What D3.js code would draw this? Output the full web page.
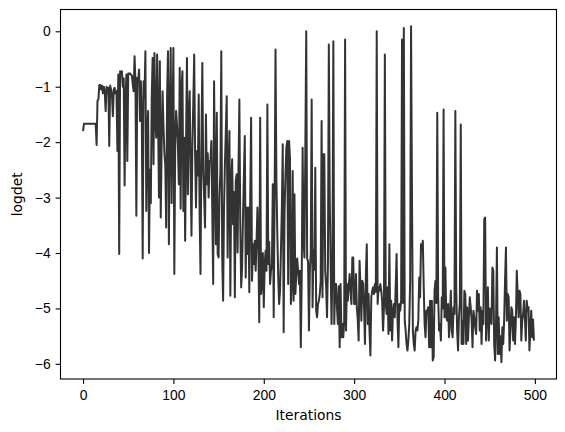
<!DOCTYPE html>
<html lang="en">
<head>
<meta charset="UTF-8" />
<title>logdet vs iterations</title>
<style>
  html, body { margin: 0; padding: 0; background: #fff; }
  svg { display: block; font-family: "DejaVu Sans", sans-serif; }
  .tick text { font-size: 13.9px; fill: #000; }
  .axis-label { font-size: 13.9px; fill: #000; }
</style>
</head>
<body>
<svg width="565" height="432"></svg>
<script src="https://cdn.jsdelivr.net/npm/d3@7"></script>
<script>
// logdet per iteration (index = iteration)
var logdet = [
  -1.80, -1.67, -1.67, -1.67, -1.67, -1.67, -1.67, -1.67, -1.67, -1.67,
  -1.67, -1.67, -1.67, -1.67, -1.67, -2.05, -1.25, -1.23, -0.97, -0.97,
  -1.05, -0.98, -1.12, -1.00, -1.10, -1.44, -1.00, -1.08, -1.02, -2.07,
  -0.98, -1.05, -1.15, -1.53, -1.05, -1.02, -1.12, -1.08, -2.16, -0.78,
  -4.02, -0.72, -0.75, -0.72, -1.00, -0.85, -2.78, -1.20, -0.78, -2.34,
  -0.76, -0.77, -0.76, -0.78, -0.80, -0.96, -1.08, -0.45, -0.90, -3.33,
  -0.84, -0.90, -0.69, -1.62, -0.90, -1.50, -4.10, -0.90, -1.20, -0.36,
  -3.24, -1.80, -1.44, -4.00, -2.50, -3.10, -1.20, -0.48, -2.40, -0.39,
  -1.60, -1.92, -0.42, -1.50, -3.00, -0.54, -3.36, -2.00, -1.08, -1.70,
  -2.20, -2.40, -3.54, -1.20, -0.36, -3.84, -1.50, -0.30, -3.10, -1.60,
  -0.30, -4.38, -2.00, -1.44, -1.70, -2.10, -2.76, -0.66, -3.20, -1.00,
  -0.72, -3.24, -1.92, -3.78, -2.00, -0.48, -2.94, -1.60, -1.08, -2.50,
  -3.69, -2.04, -1.30, -0.42, -2.20, -3.18, -2.16, -2.60, -1.14, -3.30,
  -4.38, -2.00, -0.57, -2.52, -3.00, -3.54, -1.50, -2.76, -2.20, -3.00,
  -2.34, -2.34, -1.98, -3.20, -4.56, -0.90, -2.70, -3.84, -1.47, -4.02,
  -4.08, -3.00, -2.52, -0.36, -4.08, -4.86, -3.18, -2.40, -1.80, -1.17,
  -4.08, -2.50, -1.80, -4.77, -2.70, -2.31, -3.48, -2.90, -4.80, -2.70,
  -2.58, -3.99, -2.50, -1.23, -3.48, -4.62, -4.26, -3.36, -2.60, -1.89,
  -4.44, -3.18, -4.02, -3.18, -4.71, -3.00, -1.56, -4.50, -3.84, -4.20,
  -3.78, -4.32, -3.80, -3.18, -3.84, -5.25, -1.56, -4.74, -4.56, -4.00,
  -4.98, -4.20, -3.96, -4.32, -1.32, -4.20, -3.80, -4.56, -4.32, -4.20,
  -2.76, -5.16, -3.00, -0.33, -2.70, -3.66, -4.44, -4.92, -4.68, -3.96,
  -3.20, -2.04, -5.43, -3.24, -2.60, -2.10, -1.98, -4.56, -1.98, -2.28,
  -4.92, -4.56, -2.52, -4.86, -2.94, -4.74, -4.38, -4.10, -4.32, -4.56,
  -4.32, -5.70, -4.44, -2.10, -3.78, -4.08, -2.10, 0.00, -4.10, -4.14,
  -5.40, -4.32, -4.00, -1.23, -4.98, -3.96, -4.30, -2.46, -5.04, -5.16,
  -4.92, -4.86, -4.74, -4.50, -1.62, -4.80, -2.22, -2.22, -4.32, -4.60,
  -5.16, -4.20, -0.24, -3.00, -4.20, -5.28, -4.20, -0.18, -5.28, -4.56,
  -4.56, -4.98, -5.28, -4.60, -5.70, -4.56, -5.52, -5.28, -5.52, -5.22,
  -0.15, -5.40, -4.56, -4.86, -4.60, -4.38, -4.68, -4.92, -4.08, -4.08,
  -4.92, -4.92, -4.38, -4.98, -5.20, -5.58, -4.14, -4.60, -5.22, -4.50,
  -4.56, -5.00, -5.64, -4.38, -3.84, -5.28, -4.74, -5.40, -5.85, -4.80,
  -4.68, -4.62, -4.74, -4.56, -4.70, 0.00, -4.92, -4.62, -4.68, -4.56,
  -4.68, -4.86, -5.40, -5.00, -0.42, -4.92, -5.10, -4.62, -5.46, -3.84,
  -5.40, -4.86, -5.58, -5.04, -4.92, -5.16, -4.60, -4.02, -5.20, -5.70,
  -4.92, -5.04, -4.86, -0.15, -4.90, 0.06, -5.22, -5.40, -5.64, -5.76,
  -5.58, -5.28, -4.50, 0.09, -2.94, -5.40, -5.64, -5.76, -5.40, -5.34,
  -5.40, -5.22, -4.44, -4.80, -3.84, -3.96, -3.78, -4.60, -5.28, -5.52,
  -5.04, -5.04, -4.98, -5.70, -4.86, -5.70, -4.86, -5.94, -5.88, -4.68,
  -4.50, -4.90, -1.47, -4.80, -5.40, -5.28, -5.58, -4.80, -5.00, -1.41,
  -5.16, -4.26, -5.16, -5.22, -4.92, -5.52, -5.16, -4.68, -5.40, -5.52,
  -4.98, -5.10, -1.44, -4.68, -5.40, -5.76, -5.16, -4.90, -1.68, -5.64,
  -5.22, -5.64, -4.68, -4.74, -5.64, -4.98, -5.58, -5.16, -4.80, -4.98,
  -5.20, -5.70, -5.04, -5.16, -5.34, -5.46, -4.68, -5.04, -4.74, -5.40,
  -4.98, -5.64, -5.04, -5.28, -3.39, -3.36, -5.58, -5.04, -4.62, -5.58,
  -5.00, -5.16, -5.28, -4.26, -4.32, -5.64, -5.94, -5.28, -3.90, -5.82,
  -5.16, -5.82, -5.50, -5.97, -5.34, -5.64, -5.22, -4.50, -3.90, -5.22,
  -4.74, -4.80, -5.76, -5.40, -4.98, -5.04, -5.58, -5.16, -5.64, -5.20,
  -4.32, -4.74, -5.16, -4.68, -4.74, -5.58, -5.22, -5.10, -4.86, -5.20,
  -5.58, -4.86, -5.04, -4.98, -5.76, -5.40, -5.04, -5.52, -5.20, -5.58
];
var xTicks = [0, 100, 200, 300, 400, 500];
var yTicks = [-6, -5, -4, -3, -2, -1, 0];

var svg = d3.select("svg"),
    margin = {top: 9.5, right: 8.5, bottom: 53, left: 60.5},
    width = +svg.attr("width") - margin.left - margin.right,
    height = +svg.attr("height") - margin.top - margin.bottom;

var g = svg.append("g")
    .attr("transform", "translate(" + margin.left + "," + margin.top + ")");

// matplotlib style 5% padding around the data
var n = logdet.length;
var xPad = (n - 1) * 0.05;
var yExt = d3.extent(logdet), yPad = (yExt[1] - yExt[0]) * 0.05;

var x = d3.scaleLinear().domain([-xPad, n - 1 + xPad]).range([0, width]);
var y = d3.scaleLinear().domain([yExt[0] - yPad, yExt[1] + yPad]).range([height, 0]);

var fmt = function(d) { return d < 0 ? "\u2212" + Math.abs(d) : String(d); };

var line = d3.line()
    .x(function(d, i) { return x(i); })
    .y(function(d) { return y(d); });

g.append("path")
    .datum(logdet)
    .attr("fill", "none")
    .attr("stroke", "#333333")
    .attr("stroke-width", 2)
    .attr("stroke-linejoin", "round")
    .attr("d", line);

// frame
g.append("rect")
    .attr("width", width).attr("height", height)
    .attr("fill", "none").attr("stroke", "#000").attr("stroke-width", 1.1);

var xAxis = g.append("g")
    .attr("transform", "translate(0," + height + ")")
    .call(d3.axisBottom(x).tickValues(xTicks).tickFormat(fmt).tickSize(4.9).tickPadding(4.9));

var yAxis = g.append("g")
    .call(d3.axisLeft(y).tickValues(yTicks).tickFormat(fmt).tickSize(4.9).tickPadding(4.9));

[xAxis, yAxis].forEach(function(a) {
  a.select(".domain").remove();
  a.selectAll(".tick line").attr("stroke", "#000").attr("stroke-width", 1.1);
  a.selectAll(".tick text").attr("font-family", null).attr("font-size", null);
});
xAxis.selectAll(".tick text").attr("dy", "0.8em");

g.append("text")
    .attr("class", "axis-label")
    .attr("x", width / 2)
    .attr("y", height + 41)
    .attr("text-anchor", "middle")
    .text("Iterations");

g.append("text")
    .attr("class", "axis-label")
    .attr("transform", "rotate(-90)")
    .attr("x", -height / 2)
    .attr("y", 22 - margin.left)
    .attr("text-anchor", "middle")
    .text("logdet");
</script>
</body>
</html>
